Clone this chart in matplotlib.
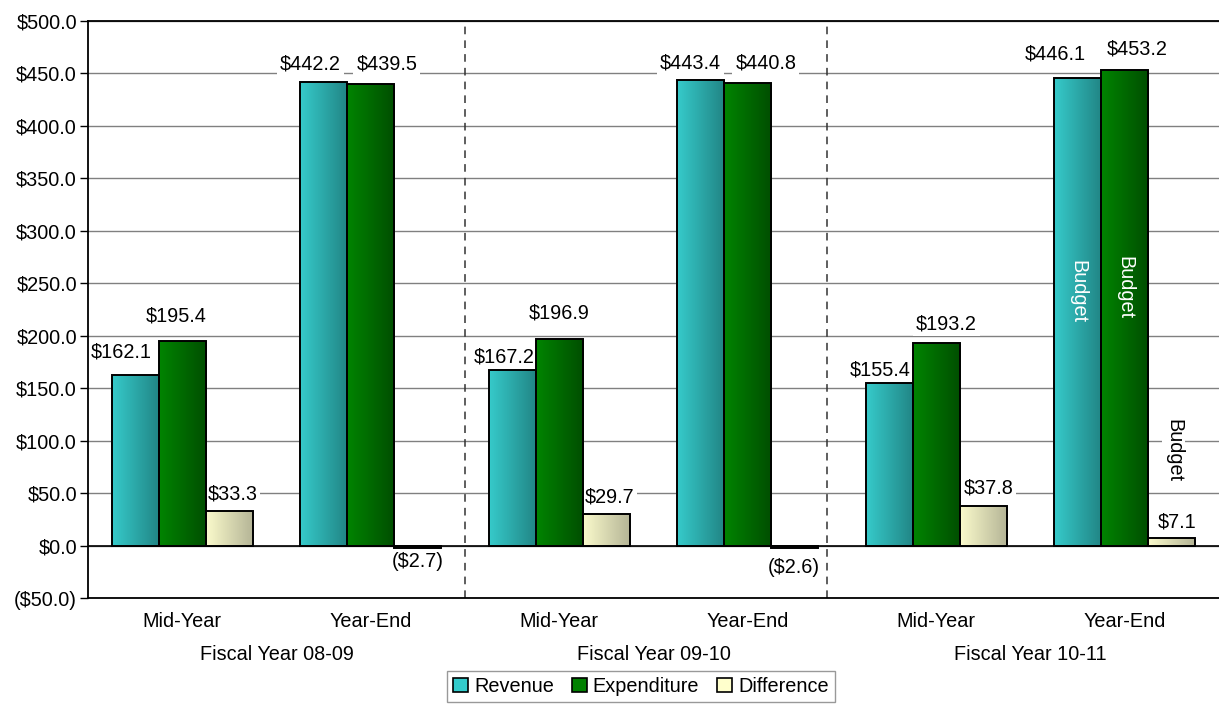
import numpy as np
import matplotlib
matplotlib.use("Agg")
import matplotlib.pyplot as plt
from matplotlib.colors import LinearSegmentedColormap
from matplotlib.patches import Patch
from matplotlib.ticker import FuncFormatter, MultipleLocator

plt.rcParams['font.family'] = ['Liberation Sans', 'DejaVu Sans']
FS = 14.3

# datos (millones)
periods = ['Mid-Year', 'Year-End', 'Mid-Year', 'Year-End', 'Mid-Year', 'Year-End']
fiscal_years = ['Fiscal Year 08-09', 'Fiscal Year 09-10', 'Fiscal Year 10-11']
revenue = [162.1, 442.2, 167.2, 443.4, 155.4, 446.1]
expenditure = [195.4, 439.5, 196.9, 440.8, 193.2, 453.2]
difference = [33.3, -2.7, 29.7, -2.6, 37.8, 7.1]
series_names = ['Revenue', 'Expenditure', 'Difference']

# colores del degradado (izquierda -> derecha)
GRAD = {
    'Revenue': ('#36CACA', '#218585'),
    'Expenditure': ('#008400', '#004E00'),
    'Difference': ('#FAFACB', '#B4B496'),
}
NEG_GRAD = ('#6a6a60', '#45453d')
SOLID = {'Revenue': '#33CCCC', 'Expenditure': '#008000', 'Difference': '#FFFFCC'}

# desplazamiento de etiquetas en pixeles (dx, dy)
label_nudge = {
    'Revenue': [(-14, 23), (-13, 18), (-8, 13), (-10, 17), (-9, 13), (-22, 24)],
    'Expenditure': [(-6, 25), (16, 20), (0, 26), (18, 20), (10, 19), (12, 21)],
    'Difference': [(3, 17), (0, -13), (3, 17), (-1, -19), (5, 18), (5, 16)],
}
budget_y = [242, 246, 91]
separators = [2.0, 3.92]


def money(v, pos=None):
    if v < 0:
        return f"(${abs(v):.1f})"
    return f"${v:.1f}"


def gradient_fill(ax, bar, c0, c1):
    x, y = bar.get_xy()
    w, h = bar.get_width(), bar.get_height()
    cmap = LinearSegmentedColormap.from_list('g', [c0, c1])
    grad = np.linspace(0, 1, 64).reshape(1, -1)
    im = ax.imshow(grad, cmap=cmap, extent=[x, x + w, min(y, y + h), max(y, y + h)],
                   aspect='auto', origin='lower', zorder=2.7, interpolation='bilinear')
    im.set_clip_path(bar)


fig = plt.figure(figsize=(12.19, 7.12), dpi=100)
ax = fig.add_axes([88 / 1219, 1 - 598 / 712, 1 - 88 / 1219, 577 / 712])

x = np.arange(len(periods)) + 0.5
width = 0.25
all_values = [revenue, expenditure, difference]

for k, (name, vals) in enumerate(zip(series_names, all_values)):
    bars = ax.bar(x + (k - 1) * width, vals, width, facecolor='none',
                  edgecolor='black', linewidth=1.4, zorder=3)
    for i, b in enumerate(bars):
        c0, c1 = GRAD[name] if vals[i] >= 0 else NEG_GRAD
        gradient_fill(ax, b, c0, c1)
        dx, dy = label_nudge[name][i]
        ax.annotate(money(vals[i]), (b.get_x() + width / 2, vals[i]),
                    xytext=(dx, dy), textcoords='offset pixels',
                    ha='center', va='center', fontsize=FS, zorder=2.5,
                    bbox=dict(boxstyle='square,pad=0.15', fc='white', ec='none'))

# etiquetas "Budget" del ultimo ano
last = len(periods) - 1
for k, yv in enumerate(budget_y):
    col = 'white' if k < 2 else 'black'
    ax.text(x[last] + (k - 1) * width + (0.01 if k == 2 else 0), yv, 'Budget', rotation=270,
            ha='center', va='center', fontsize=FS, color=col, zorder=5,
            bbox=None if k < 2 else dict(boxstyle='square,pad=0.1', fc='white', ec='none'))

for s in separators:
    ax.axvline(s, color='#333333', linestyle=(0, (5, 4)), linewidth=1.1, zorder=1)

ax.axhline(0, color='black', linewidth=1.2, zorder=2.6)

ax.set_xlim(0, len(periods))
ax.set_ylim(-50, 500)
ax.yaxis.set_major_locator(MultipleLocator(50))
ax.yaxis.set_major_formatter(FuncFormatter(money))
ax.grid(axis='y', color='#808080', linewidth=1)
ax.set_axisbelow(True)

ax.set_xticks(x)
ax.set_xticklabels(periods, fontsize=FS)
ax.tick_params(axis='x', length=0, pad=10)
ax.tick_params(axis='y', labelsize=FS, length=6, width=1, pad=2)

for sp in ['left', 'bottom', 'top']:
    ax.spines[sp].set_color('black')
    ax.spines[sp].set_linewidth(1.3)
ax.spines['right'].set_visible(False)

for j, fy in enumerate(fiscal_years):
    ax.annotate(fy, (2 * j + 1, 0), xycoords=('data', 'axes fraction'),
                xytext=(0, -57), textcoords='offset pixels',
                ha='center', va='center', fontsize=FS)

handles = [Patch(facecolor=SOLID[n], edgecolor='black', linewidth=1.2) for n in series_names]
leg = fig.legend(handles, series_names, loc='lower center', bbox_to_anchor=(641 / 1219, 0.0),
                 ncol=3, fontsize=FS, frameon=True, fancybox=False, edgecolor='#808080',
                 handlelength=0.75, handleheight=0.75, handletextpad=0.3, columnspacing=0.9,
                 borderpad=0.3)
leg.get_frame().set_linewidth(1.0)

fig.savefig('out.png', dpi=100)
